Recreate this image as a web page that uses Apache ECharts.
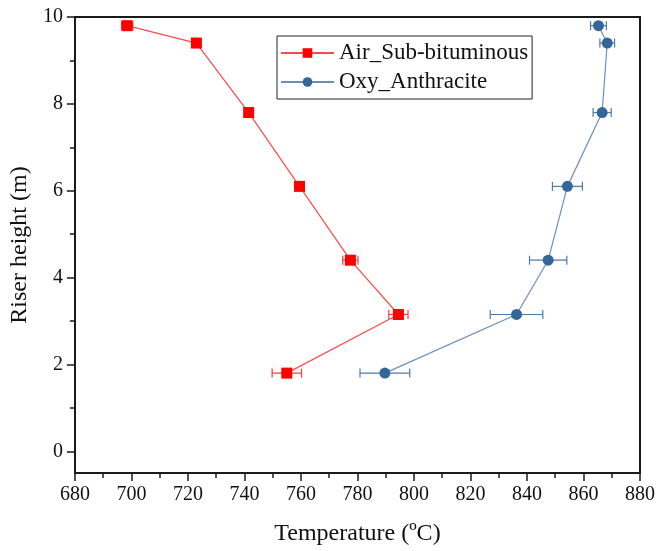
<!DOCTYPE html>
<html><head><meta charset="utf-8">
<script src="https://cdn.jsdelivr.net/npm/echarts@6/dist/echarts.min.js"></script>
<style>html,body{margin:0;padding:0;background:#fff}#c{width:671px;height:551px}</style>
</head><body><div id="c"></div>
<script>
const seriesNames = ['Air_Sub-bituminous', 'Oxy_Anthracite'];
const heights = [9.8, 9.4, 7.8, 6.1, 4.4, 3.15, 1.8];
const airTemp = [698.5, 723, 741.5, 759.5, 777.5, 794.5, 755];
const airErr = [2, 1, 1, 1, 2.7, 3.4, 5.2];
const oxyTemp = [865.3, 868.4, 866.6, 854.3, 847.5, 836.3, 789.7];
const oxyErr = [2.8, 2.6, 3.2, 5.3, 6.6, 9.3, 8.8];
const yMajorTicks = [0, 2, 4, 6, 8, 10];
const yMinorTicks = [1, 3, 5, 7, 9];

const FONT = 'Liberation Serif';
const RED = '#ff0000', RED_LINE = '#ff4a4a';
const BLUE = '#336699', BLUE_LINE = '#6a8fbd';

function pts(temps) { return temps.map((t, i) => [t, heights[i]]); }
function errData(temps, errs) { return temps.map((t, i) => [t - errs[i], t + errs[i], heights[i]]); }
function errSeries(temps, errs, color) {
  return {
    type: 'custom', z: 1, silent: true,
    data: errData(temps, errs),
    encode: { x: [0, 1], y: 2 },
    renderItem: function (params, api) {
      const y = api.value(2);
      const a = api.coord([api.value(0), y]);
      const b = api.coord([api.value(1), y]);
      const h = 4.5;
      const st = { stroke: color, lineWidth: 1.2 };
      return { type: 'group', children: [
        { type: 'line', shape: { x1: a[0], y1: a[1], x2: b[0], y2: b[1] }, style: st },
        { type: 'line', shape: { x1: a[0], y1: a[1] - h, x2: a[0], y2: a[1] + h }, style: st },
        { type: 'line', shape: { x1: b[0], y1: b[1] - h, x2: b[0], y2: b[1] + h }, style: st }
      ]};
    }
  };
}

const axisLineStyle = { color: '#1a1a1a', width: 2 };
const chart = echarts.init(document.getElementById('c'), null, { renderer: 'canvas' });
chart.setOption({
  animation: false,
  backgroundColor: '#fff',
  grid: { left: 73, right: 31, top: 17, bottom: 77 },
  legend: {
    orient: 'vertical', left: 277, top: 36,
    data: seriesNames,
    itemWidth: 53, itemHeight: 12, itemGap: 3,
    padding: [4, 4, 4, 3],
    borderColor: '#222', borderWidth: 1,
    textStyle: { fontFamily: FONT, fontSize: 23, color: '#111', lineHeight: 26 }
  },
  xAxis: [{
    type: 'value', min: 680, max: 880, interval: 20, position: 'bottom',
    axisLine: { show: true, onZero: false, lineStyle: axisLineStyle },
    axisTick: { show: true, inside: false, length: 8, lineStyle: { color: '#1a1a1a', width: 1.5 } },
    minorTick: { show: true, splitNumber: 2, length: 5, lineStyle: { color: '#1a1a1a', width: 1.5 } },
    axisLabel: { margin: 12, fontFamily: FONT, fontSize: 20, color: '#111' },
    splitLine: { show: false },
    name: 'Temperature (\u00baC)', nameLocation: 'middle', nameGap: 49,
    nameTextStyle: { fontFamily: FONT, fontSize: 24, color: '#111' }
  }, {
    type: 'value', min: 680, max: 880, position: 'top',
    axisLine: { show: true, onZero: false, lineStyle: axisLineStyle },
    axisTick: { show: false }, axisLabel: { show: false }, splitLine: { show: false }
  }],
  yAxis: [{
    type: 'value', min: -0.5, max: 10, position: 'left',
    axisLine: { show: true, onZero: false, lineStyle: axisLineStyle },
    axisTick: { show: true, inside: false, customValues: yMajorTicks, length: 8, lineStyle: { color: '#1a1a1a', width: 1.5 } },
    axisLabel: { customValues: yMajorTicks, margin: 12, fontFamily: FONT, fontSize: 20, color: '#111' },
    splitLine: { show: false },
    name: 'Riser height (m)', nameLocation: 'middle', nameGap: 35,
    nameTextStyle: { fontFamily: FONT, fontSize: 24, color: '#111' }
  }, {
    type: 'value', min: -0.5, max: 10, position: 'left',
    axisLine: { show: false, onZero: false },
    axisTick: { show: true, inside: false, customValues: yMinorTicks, length: 5, lineStyle: { color: '#1a1a1a', width: 1.5 } },
    axisLabel: { show: false }, splitLine: { show: false }
  }, {
    type: 'value', min: -0.5, max: 10, position: 'right',
    axisLine: { show: true, onZero: false, lineStyle: axisLineStyle },
    axisTick: { show: false }, axisLabel: { show: false }, splitLine: { show: false }
  }],
  series: [
    errSeries(airTemp, airErr, '#ff3a3a'),
    errSeries(oxyTemp, oxyErr, '#4f7aab'),
    {
      name: seriesNames[0], type: 'line', z: 3,
      data: pts(airTemp),
      symbol: 'rect', symbolSize: 11,
      itemStyle: { color: RED },
      lineStyle: { color: RED_LINE, width: 1.2 }
    },
    {
      name: seriesNames[1], type: 'line', z: 3,
      data: pts(oxyTemp),
      symbol: 'circle', symbolSize: 11,
      itemStyle: { color: BLUE },
      lineStyle: { color: BLUE_LINE, width: 1.2 }
    }
  ]
});
</script>
</body></html>
